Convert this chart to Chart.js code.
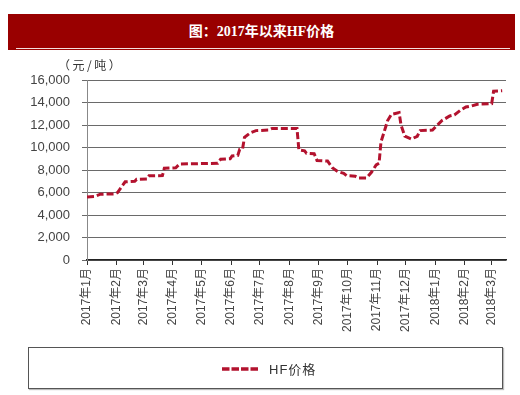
<!DOCTYPE html>
<html>
<head>
<meta charset="utf-8">
<script src="https://cdn.jsdelivr.net/npm/chart.js@4/dist/chart.umd.min.js"></script>
<style>
  html, body { margin:0; padding:0; background:#fff; }
  #wrap { position:relative; width:520px; height:395px; overflow:hidden; }
  #banner { position:absolute; left:8px; top:14px; width:507px; height:36px; background:#990000;
    color:#fff; font:bold 14px "Liberation Serif","Noto Sans CJK SC",serif; text-align:center; line-height:36px; }
  #banner:after { content:""; position:absolute; left:8px; right:5px; bottom:1px; height:1px; background:#f3dede; }
  #unit { position:absolute; left:58px; top:56px; font:12px "Noto Sans CJK SC",sans-serif; color:#333; letter-spacing:2.5px; }
  #legend { position:absolute; left:28px; top:347px; width:473px; height:40px; border:1px solid #555;
    box-shadow:1px 1px 1px #bbb; background:#fff; }
  #legend svg { position:absolute; left:193px; top:19px; }
  #legend span { position:absolute; left:240px; top:11px; font:13px "Liberation Sans","Noto Sans CJK SC",sans-serif; color:#333; letter-spacing:1px; }
  canvas { position:absolute; left:0; top:0; }
</style>
</head>
<body>
<div id="wrap">
  <canvas id="c" width="520" height="395"></canvas>
  <div id="banner">图：2017年以来HF价格</div>
  <div id="unit">（元/吨）</div>
  <div id="legend">
    <svg width="36" height="4"><line x1="0" y1="2" x2="36" y2="2" stroke="#B3122E" stroke-width="3.5" stroke-dasharray="7.5,2"/></svg>
    <span>HF价格</span>
  </div>
</div>
<script>
// days since 2017-01-01
const days = [0, 8, 14, 29, 32, 40, 50, 52, 63, 65, 79, 81, 93, 97, 137, 140, 150, 152, 158, 160, 163, 165, 171, 177, 190, 194, 220, 222, 228, 230, 238, 241, 252, 257, 263, 269, 272, 281, 284, 293, 298, 303, 306, 308, 311, 315, 319, 327, 329, 333, 340, 346, 349, 362, 366, 372, 380, 385, 391, 397, 403, 409, 424, 426, 435];
const prices = [5600, 5650, 5850, 5870, 6000, 6950, 7000, 7170, 7200, 7480, 7500, 8150, 8200, 8530, 8600, 8950, 9000, 9250, 9300, 9840, 9880, 10900, 11300, 11500, 11550, 11700, 11700, 9780, 9700, 9480, 9450, 8850, 8800, 8200, 7850, 7700, 7500, 7450, 7300, 7300, 7800, 8450, 8600, 10500, 11300, 12400, 12950, 13100, 12000, 11000, 10750, 11000, 11500, 11550, 11900, 12400, 12800, 12900, 13300, 13600, 13700, 13850, 13900, 15000, 15050];
const monthTicks = [0, 31, 59, 90, 120, 151, 181, 212, 243, 273, 304, 334, 365, 396, 424];
const monthLabels = ['2017年1月','2017年2月','2017年3月','2017年4月','2017年5月','2017年6月','2017年7月','2017年8月','2017年9月','2017年10月','2017年11月','2017年12月','2018年1月','2018年2月','2018年3月'];
const seriesName = 'HF价格';

const points = days.map((d, i) => ({ x: d, y: prices[i] }));

new Chart(document.getElementById('c'), {
  type: 'line',
  data: { datasets: [{
    label: seriesName, data: points, borderColor: '#B3122E', borderWidth: 3,
    borderDash: [7, 3], pointRadius: 0, tension: 0, fill: false
  }]},
  options: {
    responsive: false, animation: false,
    layout: { padding: { top: 80, right: 14, bottom: 60, left: 0 } },
    plugins: { legend: { display: false }, title: { display: false }, tooltip: { enabled: false } },
    scales: {
      x: {
        type: 'linear', min: 0, max: 439,
        afterBuildTicks: s => { s.ticks = monthTicks.map(v => ({ value: v })); },
        afterFit: s => { s.height = 75; },
        grid: { drawOnChartArea: false, drawTicks: true, tickLength: 5, color: '#333' },
        border: { display: true, color: '#222', width: 1.5 },
        ticks: { autoSkip: false, maxRotation: 90, minRotation: 90, padding: 3, color: '#444',
          font: { size: 12, family: '"Liberation Sans","Noto Sans CJK SC",sans-serif' },
          callback: (v, i) => monthLabels[i] }
      },
      y: {
        min: 0, max: 16000,
        afterFit: s => { s.width = 87; },
        grid: { color: '#6a6a6a', lineWidth: 1, drawTicks: true, tickLength: 5 },
        border: { display: true, color: '#888', width: 1 },
        ticks: { stepSize: 2000, padding: 12, color: '#444',
          font: { size: 13, family: '"Liberation Sans",sans-serif' },
          callback: v => v.toLocaleString('en-US') }
      }
    }
  }
});
</script>
</body>
</html>
